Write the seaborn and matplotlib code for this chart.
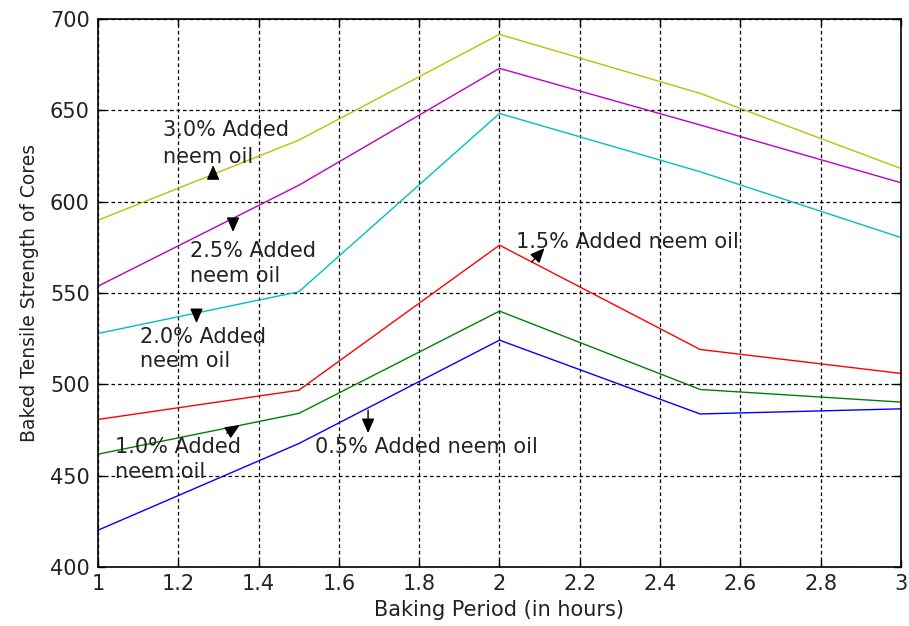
import matplotlib
matplotlib.use("Agg")
import matplotlib.pyplot as plt
import seaborn as sns
import pandas as pd

# ---- data ----
baking_hours = [1.0, 1.5, 2.0, 2.5, 3.0]
oil_05 = [420.2, 467.6, 524.2, 483.8, 486.6]
oil_10 = [461.8, 484.1, 540.1, 497.2, 490.3]
oil_15 = [480.8, 496.8, 576.2, 519.1, 506.0]
oil_20 = [527.9, 550.7, 648.3, 616.4, 580.4]
oil_25 = [553.8, 609.0, 673.0, 642.0, 610.4]
oil_30 = [589.9, 633.7, 691.6, 659.3, 618.2]

series_names = ["0.5%", "1.0%", "1.5%", "2.0%", "2.5%", "3.0%"]
series_values = [oil_05, oil_10, oil_15, oil_20, oil_25, oil_30]
series_colors = ["#0000FF", "#008000", "#FF0000", "#00BFBF", "#BF00BF", "#BFBF00"]

x_ticks = [1, 1.2, 1.4, 1.6, 1.8, 2, 2.2, 2.4, 2.6, 2.8, 3]
x_tick_labels = ["1", "1.2", "1.4", "1.6", "1.8", "2", "2.2", "2.4", "2.6", "2.8", "3"]
y_ticks = [400, 450, 500, 550, 600, 650, 700]

# annotation texts: (lines, text x, first baseline y, second baseline y, arrow tail, arrow tip)
annotations = [
    (["3.0% Added", "neem oil"], 1.161, 635.9, 621.1, (1.2864, 613.5), (1.2864, 620.0)),
    (["2.5% Added", "neem oil"], 1.228, 569.9, 556.1, (1.336, 590.0), (1.336, 583.4)),
    (["2.0% Added", "neem oil"], 1.104, 522.7, 509.6, (1.245, 540.1), (1.245, 533.5)),
    (["1.0% Added", "neem oil"], 1.042, 462.3, 448.6, (1.3205, 473.3), (1.3529, 477.7)),
    (["0.5% Added neem oil"], 1.540, 462.5, None, (1.6725, 485.9), (1.6725, 473.3)),
    (["1.5% Added neem oil"], 2.042, 574.6, None, (2.080, 566.9), (2.1124, 574.6)),
]

rows = []
for name, vals in zip(series_names, series_values):
    for xv, yv in zip(baking_hours, vals):
        rows.append({"hours": xv, "strength": yv, "oil": name})
df = pd.DataFrame(rows)

sns.set_theme(style="white")
plt.rcParams["font.family"] = ["DejaVu Sans"]
plt.rcParams["xtick.direction"] = "in"
plt.rcParams["ytick.direction"] = "in"

fig = plt.figure(figsize=(9.09, 6.26), dpi=100)
ax = fig.add_axes([0.108, 0.0942, 0.883, 0.8754])

sns.lineplot(data=df, x="hours", y="strength", hue="oil",
             palette=dict(zip(series_names, series_colors)),
             hue_order=series_names, linewidth=1.0, legend=False, ax=ax)

ax.set_xlim(1, 3)
ax.set_ylim(400, 700)
ax.set_xticks(x_ticks)
ax.set_xticklabels(x_tick_labels)
ax.set_yticks(y_ticks)
ax.tick_params(axis="both", which="both", direction="in", length=5, width=1,
               colors="black", labelsize=15, top=True, right=True,
               bottom=True, left=True)
ax.tick_params(axis="x", pad=5)
ax.tick_params(axis="y", pad=6)
for lab in ax.get_xticklabels() + ax.get_yticklabels():
    lab.set_color("#222222")

ax.grid(True, color="black", linestyle=(0, (2.9, 2.3)), linewidth=0.9)
ax.set_axisbelow(True)
for sp in ax.spines.values():
    sp.set_color("black")
    sp.set_linewidth(1.2)
    sp.set_visible(True)

ax.set_xlabel("Baking Period (in hours)", fontsize=15, color="#222222", labelpad=4)
ax.set_ylabel("Baked Tensile Strength of Cores", fontsize=13.5, color="#222222", labelpad=8)

for lines, tx, y1, y2, tail, tip in annotations:
    ax.text(tx, y1, lines[0], fontsize=15, color="#222222", ha="left", va="baseline")
    if y2 is not None:
        ax.text(tx, y2, lines[1], fontsize=15, color="#222222", ha="left", va="baseline")
    ax.annotate("", xy=tip, xytext=tail,
                arrowprops=dict(arrowstyle="-|>,head_length=0.8,head_width=0.35",
                                color="black", lw=1, shrinkA=0, shrinkB=0,
                                mutation_scale=11))

fig.savefig("out.png", dpi=100)
